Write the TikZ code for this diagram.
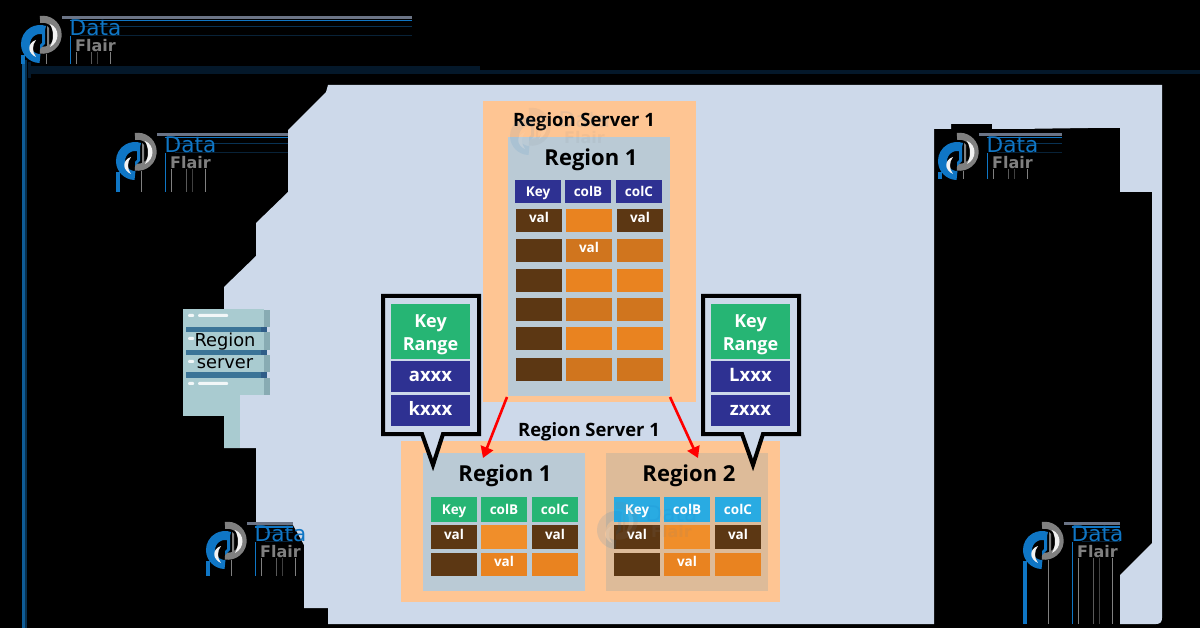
\documentclass[tikz,border=0pt]{standalone}
\usepackage{fontspec}
\setmainfont{Open Sans}
\newfontfamily\logofont{DejaVu Sans}
\usetikzlibrary{arrows.meta}
\definecolor{pagebg}{HTML}{CDD9EA}
\definecolor{srv}{HTML}{FEC593}
\definecolor{regblue}{HTML}{BACAD5}
\definecolor{regtan}{HTML}{DDBB99}
\definecolor{navy}{HTML}{2E3192}
\definecolor{brownc}{HTML}{5C3713}
\definecolor{orangea}{HTML}{E98320}
\definecolor{orangeb}{HTML}{D0751E}
\definecolor{orangec}{HTML}{F08E2A}
\definecolor{greenc}{HTML}{26B574}
\definecolor{cyanc}{HTML}{29ABE2}
\definecolor{logoblue}{HTML}{0F76C5}
\definecolor{logogrey}{HTML}{808080}
\definecolor{teal}{HTML}{A9CBD0}
\definecolor{tealdark}{HTML}{88ABB3}
\definecolor{band}{HTML}{3B7497}
\definecolor{banddark}{HTML}{2F5D88}
\definecolor{deepnavy}{HTML}{04182A}
\tikzset{
  cellbox/.style={inner sep=0pt,outer sep=0pt,text=white,font=\fontsize{13.5}{13.5}\selectfont\bfseries,text height=6pt,text depth=2pt},
  hdr/.style={text height=12pt,text depth=2pt},
  panelbox/.style={inner sep=0pt,outer sep=0pt},
  titletext/.style={inner sep=0pt,font=\fontsize{18.4}{18}\selectfont\bfseries,text=black},
  bigtitle/.style={inner sep=0pt,font=\fontsize{22}{22}\selectfont\bfseries,text=black},
  calloutline/.style={draw=black,line width=4pt,fill=pagebg,miter limit=10},
  redarrow/.style={draw=red,line width=2.6pt,-{Triangle[length=11pt,width=13pt]}},
  keytext/.style={inner sep=0pt,text=white,align=center,font=\fontsize{18}{23}\selectfont\bfseries},
  rangetext/.style={text height=12pt,text depth=2pt,font=\fontsize{18.5}{19}\selectfont\bfseries},
  srvtext/.style={inner sep=0pt,font=\logofont\fontsize{17.8}{17.5}\selectfont,text=black},
}
% name x0 y0 x1 y1 fill text [extra style]
\newcommand\cellbx[8][]{\node[cellbox,#1,fill=#7,minimum width={(#5-#3)*1pt},minimum height={(#6-#4)*1pt}] (#2) at ({(#3+#5)/2},{(#4+#6)/2}) {#8};}
\newcommand\panelbx[6]{\node[panelbox,fill=#6,minimum width={(#4-#2)*1pt},minimum height={(#5-#3)*1pt}] (#1) at ({(#2+#4)/2},{(#3+#5)/2}) {};}
% logo: name, dx, dy
\newcommand\dflogo[3]{%
  \begin{scope}[shift={(#2,#3)}]
    \draw[logoblue,line width=9pt] (40,58.5) arc[start angle=270,end angle=70,radius=14.5pt];
    \draw[logogrey,line width=7pt] (40,19.5) arc[start angle=100,end angle=-100,radius=15.5pt];
    \fill[white!90!gray] (36,40) .. controls (27,43) and (27,53) .. (36,57) .. controls (32,52) and (32,45) .. (36,40) -- cycle;
    \fill[white!90!gray] (50,24) .. controls (60,28) and (60,42) .. (50,47) .. controls (54,40) and (54,31) .. (50,24) -- cycle;
    \fill[logoblue] (40,49) -- (45,44) -- (45,30) -- (42,32) -- (42,43) -- (40,45) -- cycle;
    \fill[logogrey] (47,48) -- (47,26) -- (49,28) -- (49,48) -- cycle;
    \node[anchor=west,inner sep=0pt,text=logoblue,font=\logofont\fontsize{21.6}{21}\selectfont] (#1d) at (69.5,28) {Data};
    \node[anchor=west,inner sep=0pt,text=logogrey,font=\logofont\bfseries\fontsize{16}{16}\selectfont] (#1f) at (75,46) {Flair};
  \end{scope}}
% horizontal streaks: dx dy xend(absolute-dx)
\newcommand\hstreak[3]{%
  \begin{scope}[shift={(#1,#2)}]
    \fill[color={rgb,255:red,107;green,116;blue,134}] (62,16) rectangle (#3,19);
    \fill[logoblue] (70,20) rectangle (#3,21.5);
    \fill[color={rgb,255:red,8;green,50;blue,84}] (80,26) rectangle (#3,27);
    \fill[color={rgb,255:red,8;green,34;blue,56}] (80,35) rectangle (#3,36);
  \end{scope}}
% vertical streaks: dx dy yend(relative)
\newcommand\vstreak[3]{%
  \begin{scope}[shift={(#1,#2)},line width=.8pt]
    \fill[logoblue] (21,55) rectangle (25,#3);
    \draw[logogrey] (46,54) -- (46,#3);
    \draw[logoblue] (70,36) -- (70,#3);
    \draw[logogrey] (76,52) -- (76,#3);
    \draw[logogrey!70!black] (91,52) -- (91,#3);
    \draw[logogrey!50!black] (97,52) -- (97,#3);
    \draw[logogrey] (110,52) -- (110,#3);
  \end{scope}}
\begin{document}
\begin{tikzpicture}[x=1pt,y=-1pt]
\useasboundingbox (0,0) rectangle (1200,628);
\fill[black] (0,0) rectangle (1200,628);
% page sheet with its cut-outs
\fill[pagebg] (328,85) -- (1162,85) -- (1162,618) .. controls (1162,622) and (1160,624) .. (1156,624)
  -- (1120,624) -- (1120,575) -- (1152,543) -- (1152,192) -- (1120,192) -- (1120,128) -- (1088,128)
  -- (1017,129) -- (992,129) -- (992,124) -- (951,124) -- (951,129) -- (934,129) -- (934,624)
  -- (328,624) -- (328,608) -- (304,608) -- (304,545) -- (293,525) -- (256,525) -- (256,448) -- (224,448)
  -- (224,287) -- (256,256) -- (256,223) -- (288,192) -- (288,130) -- (326,92) -- cycle;
% dark rule under title and long left stripe
\fill[deepnavy] (31,66) rectangle (480,74);
\fill[deepnavy] (480,70) rectangle (1200,74);
\fill[deepnavy] (28,62) rectangle (31,78);
\fill[color={rgb,255:red,14;green,92;blue,150}] (21.5,60) rectangle (25,628);
\fill[color={rgb,255:red,7;green,48;blue,79}] (25,60) rectangle (27,628);
% streaks left by the logos
\hstreak{0}{0}{412}
\hstreak{95}{117}{193}
\hstreak{185}{506}{108}
\hstreak{1002}{506}{118}
\hstreak{917}{117}{145}
\vstreak{0}{0}{64}
\vstreak{95}{117}{75}
\vstreak{185}{506}{70}
\vstreak{1002}{506}{118}
\vstreak{917}{117}{62}
% server icon
\fill[teal] (183,309) rectangle (264,395);
\fill[teal] (183,395) rectangle (240,416);
\fill[teal] (224,416) rectangle (240,448);
\fill[tealdark] (264,310) rectangle (270,327);
\fill[tealdark] (264,332) rectangle (270,350);
\fill[tealdark] (264,355) rectangle (270,372);
\fill[tealdark] (264,378) rectangle (270,395);
\fill[band] (186,327) rectangle (261,332);
\fill[band] (186,350) rectangle (261,355);
\fill[band] (186,372) rectangle (261,378);
\fill[banddark] (261,327) rectangle (267,332);
\fill[banddark] (261,350) rectangle (267,355);
\fill[banddark] (261,372) rectangle (267,378);
\fill[white!85!teal,rounded corners=1pt] (188,314) rectangle (194,317);
\fill[white!85!teal,rounded corners=1pt] (198,314) rectangle (228,317);
\fill[white!85!teal,rounded corners=1pt] (188,337) rectangle (194,340);
\fill[white!85!teal,rounded corners=1pt] (188,360) rectangle (194,363);
\fill[white!85!teal,rounded corners=1pt] (188,382) rectangle (194,385);
\fill[white!85!teal,rounded corners=1pt] (198,382) rectangle (228,385);
\node[srvtext] (srvA) at (225,342) {Region};
\node[srvtext] (srvB) at (225,364) {server};
% top server
\panelbx{topsrv}{483}{101}{696}{402}{srv}
\panelbx{topreg}{508}{137}{670}{396}{regblue}
\node[titletext] (topsrvT) at (584,122) {Region Server 1};
\node[bigtitle] (topregT) at (591,160) {Region 1};
\cellbx[hdr]{th1}{515}{180}{561}{203}{navy}{Key}
\cellbx[hdr]{th2}{565}{180}{611}{203}{navy}{colB}
\cellbx[hdr]{th3}{616}{180}{662}{203}{navy}{colC}
\cellbx{a1}{516}{209}{562}{232}{brownc}{val}
\cellbx{a2}{566}{209}{612}{232}{orangea}{}
\cellbx{a3}{617}{209}{663}{232}{brownc}{val}
\cellbx{b1}{516}{239}{562}{262}{brownc}{}
\cellbx{b2}{566}{239}{612}{262}{orangeb}{val}
\cellbx{b3}{617}{239}{663}{262}{orangeb}{}
\cellbx{c1}{516}{269}{562}{292}{brownc}{}
\cellbx{c2}{566}{269}{612}{292}{orangea}{}
\cellbx{c3}{617}{269}{663}{292}{orangea}{}
\cellbx{d1}{516}{298}{562}{321}{brownc}{}
\cellbx{d2}{566}{298}{612}{321}{orangeb}{}
\cellbx{d3}{617}{298}{663}{321}{orangeb}{}
\cellbx{e1}{516}{327}{562}{350}{brownc}{}
\cellbx{e2}{566}{327}{612}{350}{orangea}{}
\cellbx{e3}{617}{327}{663}{350}{orangea}{}
\cellbx{f1}{516}{358}{562}{381}{brownc}{}
\cellbx{f2}{566}{358}{612}{381}{orangeb}{}
\cellbx{f3}{617}{358}{663}{381}{orangeb}{}
% bottom server
\panelbx{botsrv}{401}{441}{780}{602}{srv}
\panelbx{regA}{423}{453}{585}{591}{regblue}
\panelbx{regB}{606}{453}{768}{591}{regtan}
\node[titletext] (botsrvT) at (589,432) {Region Server 1};
\node[bigtitle] (regAT) at (505,476) {Region 1};
\node[bigtitle] (regBT) at (689,476) {Region 2};
\cellbx[hdr]{pk1}{431}{497}{477}{522}{greenc}{Key}
\cellbx[hdr]{pk2}{481}{497}{527}{522}{greenc}{colB}
\cellbx[hdr]{pk3}{532}{497}{578}{522}{greenc}{colC}
\cellbx{pa1}{431}{525}{477}{549}{brownc}{val}
\cellbx{pa2}{481}{525}{527}{549}{orangec}{}
\cellbx{pa3}{532}{525}{578}{549}{brownc}{val}
\cellbx{pb1}{431}{553}{477}{576}{brownc}{}
\cellbx{pb2}{481}{553}{527}{576}{orangea}{val}
\cellbx{pb3}{532}{553}{578}{576}{orangea}{}
\cellbx[hdr]{qk1}{614}{497}{660}{522}{cyanc}{Key}
\cellbx[hdr]{qk2}{664}{497}{710}{522}{cyanc}{colB}
\cellbx[hdr]{qk3}{715}{497}{761}{522}{cyanc}{colC}
\cellbx{qa1}{614}{525}{660}{549}{brownc}{val}
\cellbx{qa2}{664}{525}{710}{549}{orangec}{}
\cellbx{qa3}{715}{525}{761}{549}{brownc}{val}
\cellbx{qb1}{614}{553}{660}{576}{brownc}{}
\cellbx{qb2}{664}{553}{710}{576}{orangea}{val}
\cellbx{qb3}{715}{553}{761}{576}{orangea}{}
% arrows
\coordinate (arrowLs) at (507,397);
\coordinate (arrowLe) at (483,458);
\coordinate (arrowRs) at (670,397);
\coordinate (arrowRe) at (698,458);
\draw[redarrow] (arrowLs) -- (arrowLe);
\draw[redarrow] (arrowRs) -- (arrowRe);
% callouts
\draw[calloutline] (383,296) -- (479,296) -- (479,434) -- (443,434) -- (433,465) -- (422,434) -- (383,434) -- cycle;
\cellbx{kl}{391}{304}{470}{359}{greenc}{}
\node[keytext] (klt) at (430.5,334.5) {Key\\Range};
\cellbx[rangetext]{kl2}{391}{361}{470}{392}{navy}{axxx}
\cellbx[rangetext]{kl3}{391}{395}{470}{426}{navy}{kxxx}
\draw[calloutline] (703,296) -- (799,296) -- (799,434) -- (763,434) -- (753,465) -- (742,434) -- (703,434) -- cycle;
\cellbx{kr}{711}{304}{790}{359}{greenc}{}
\node[keytext] (krt) at (750.5,334.5) {Key\\Range};
\cellbx[rangetext]{kr2}{711}{361}{790}{392}{navy}{Lxxx}
\cellbx[rangetext]{kr3}{711}{395}{790}{426}{navy}{zxxx}
% logos
\dflogo{lgA}{0}{0}
\dflogo{lgB}{95}{117}
\dflogo{lgC}{185}{506}
\dflogo{lgD}{1002}{506}
\dflogo{lgE}{917}{117}
\begin{scope}[opacity=.09,transparency group]
\dflogo{lgF}{489}{92}
\end{scope}
\begin{scope}[opacity=.12,transparency group]
\dflogo{lgG}{576}{486}
\end{scope}
\end{tikzpicture}
\end{document}
